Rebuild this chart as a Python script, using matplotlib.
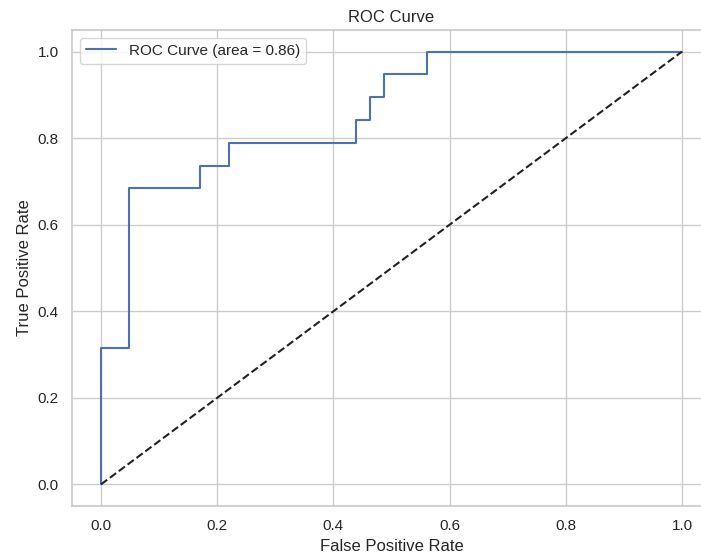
import matplotlib
matplotlib.use("Agg")
import matplotlib.pyplot as plt
import seaborn as sns

# ROC steps (41 negatives, 19 positives)
fpr = [0.0, 0.0, 2/41, 2/41, 7/41, 7/41, 9/41, 9/41, 18/41, 18/41,
       19/41, 19/41, 20/41, 20/41, 23/41, 23/41, 1.0]
tpr = [0.0, 6/19, 6/19, 13/19, 13/19, 14/19, 14/19, 15/19, 15/19, 16/19,
       16/19, 17/19, 17/19, 18/19, 18/19, 1.0, 1.0]
roc_auc = 0.86

sns.set_theme(style="whitegrid", context="notebook")
plt.rcParams['font.family'] = ['Liberation Sans', 'DejaVu Sans']

fig = plt.figure(figsize=(7.01, 5.59), dpi=100)
ax = fig.add_axes([72/701, 53/559, 639/701, 476/559])

ax.plot(fpr, tpr, color='#4c72b0', lw=1.5, label='ROC Curve (area = %0.2f)' % roc_auc)
ax.plot([0, 1], [0, 1], color='#222222', lw=1.5, linestyle='--')
ax.set_xlim(-0.05, 1.05)
ax.set_ylim(-0.05, 1.05)
ax.set_xticks([0.0, 0.2, 0.4, 0.6, 0.8, 1.0])
ax.set_yticks([0.0, 0.2, 0.4, 0.6, 0.8, 1.0])
ax.set_xlabel('False Positive Rate')
ax.set_ylabel('True Positive Rate')
ax.set_title('ROC Curve')
ax.legend(loc='upper left')

fig.savefig('out.png', dpi=100)
